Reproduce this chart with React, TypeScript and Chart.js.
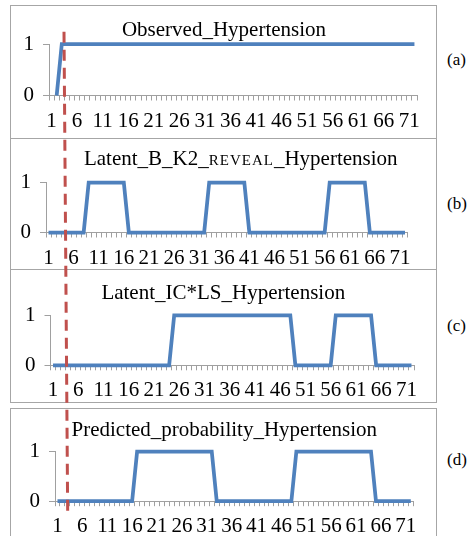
import React, { useEffect, useRef } from "react";
import { Chart, registerables } from "chart.js";

Chart.register(...registerables);

const FONT = "'Liberation Serif', 'Times New Roman', serif";
const BLUE = "#4f81bd";
const GRAY = "#a0a0a0";
const FRAME = "#a6a6a6";
const RED = "#c0504d";

// Time points 1..72 (category axis)
const categories = [
  "1", "2", "3", "4", "5", "6", "7", "8", "9", "10", "11", "12",
  "13", "14", "15", "16", "17", "18", "19", "20", "21", "22", "23", "24",
  "25", "26", "27", "28", "29", "30", "31", "32", "33", "34", "35", "36",
  "37", "38", "39", "40", "41", "42", "43", "44", "45", "46", "47", "48",
  "49", "50", "51", "52", "53", "54", "55", "56", "57", "58", "59", "60",
  "61", "62", "63", "64", "65", "66", "67", "68", "69", "70", "71", "72",
];

// Show every 5th category label (1, 6, 11, ... 71)
const xTickLabels = [
  "1", "6", "11", "16", "21", "26", "31", "36", "41", "46", "51", "56", "61", "66", "71",
];
const yTickValues = [0, 1];

const observed = [
  null, 0, 1, 1, 1, 1, 1, 1, 1, 1, 1, 1,
  1, 1, 1, 1, 1, 1, 1, 1, 1, 1, 1, 1,
  1, 1, 1, 1, 1, 1, 1, 1, 1, 1, 1, 1,
  1, 1, 1, 1, 1, 1, 1, 1, 1, 1, 1, 1,
  1, 1, 1, 1, 1, 1, 1, 1, 1, 1, 1, 1,
  1, 1, 1, 1, 1, 1, 1, 1, 1, 1, 1, 1,
];

const latentBK2 = [
  0, 0, 0, 0, 0, 0, 0, 0, 1, 1, 1, 1,
  1, 1, 1, 1, 0, 0, 0, 0, 0, 0, 0, 0,
  0, 0, 0, 0, 0, 0, 0, 0, 1, 1, 1, 1,
  1, 1, 1, 1, 0, 0, 0, 0, 0, 0, 0, 0,
  0, 0, 0, 0, 0, 0, 0, 0, 1, 1, 1, 1,
  1, 1, 1, 1, 0, 0, 0, 0, 0, 0, 0, 0,
];

const latentICLS = [
  0, 0, 0, 0, 0, 0, 0, 0, 0, 0, 0, 0,
  0, 0, 0, 0, 0, 0, 0, 0, 0, 0, 0, 0,
  1, 1, 1, 1, 1, 1, 1, 1, 1, 1, 1, 1,
  1, 1, 1, 1, 1, 1, 1, 1, 1, 1, 1, 1,
  0, 0, 0, 0, 0, 0, 0, 0, 1, 1, 1, 1,
  1, 1, 1, 1, 0, 0, 0, 0, 0, 0, 0, 0,
];

const predicted = [
  0, 0, 0, 0, 0, 0, 0, 0, 0, 0, 0, 0,
  0, 0, 0, 0, 1, 1, 1, 1, 1, 1, 1, 1,
  1, 1, 1, 1, 1, 1, 1, 1, 0, 0, 0, 0,
  0, 0, 0, 0, 0, 0, 0, 0, 0, 0, 0, 0,
  1, 1, 1, 1, 1, 1, 1, 1, 1, 1, 1, 1,
  1, 1, 1, 1, 0, 0, 0, 0, 0, 0, 0, 0,
];

type Geo = {
  top: number;
  bottom: number;
  areaLeft: number;
  areaRight: number;
  areaTop: number;
  areaBottom: number;
};

const CANVAS_LEFT = 10;
const CANVAS_WIDTH = 427;

function Panel({ values, geo }: { values: (number | null)[]; geo: Geo }) {
  const ref = useRef<HTMLCanvasElement | null>(null);
  const height = Math.round(geo.bottom - geo.top);
  useEffect(() => {
    if (!ref.current) return;
    const yWidth = geo.areaLeft - CANVAS_LEFT;
    const padRight = CANVAS_LEFT + CANVAS_WIDTH - geo.areaRight;
    const padTop = geo.areaTop - geo.top;
    const xHeight = height - (geo.areaBottom - geo.top);
    const tickFont = { family: FONT, size: 21 };
    const chart = new Chart(ref.current, {
      type: "line",
      data: {
        labels: categories,
        datasets: [
          {
            data: values,
            borderColor: BLUE,
            backgroundColor: BLUE,
            borderWidth: 3.75,
            pointRadius: 0,
            pointHoverRadius: 0,
            tension: 0,
            fill: false,
            spanGaps: false,
            clip: false,
            borderJoinStyle: "miter",
            borderCapStyle: "butt",
          } as any,
        ],
      },
      options: {
        responsive: false,
        animation: false,
        events: [],
        layout: { padding: { left: 0, right: padRight, top: padTop, bottom: 0 } },
        plugins: {
          legend: { display: false },
          title: { display: false },
          tooltip: { enabled: false },
        },
        scales: {
          x: {
            type: "category",
            offset: true,
            grid: {
              offset: true,
              drawOnChartArea: false,
              drawTicks: true,
              tickLength: 5,
              color: GRAY,
              lineWidth: 1,
            },
            border: { display: true, color: GRAY, width: 1 },
            ticks: {
              autoSkip: false,
              maxRotation: 0,
              minRotation: 0,
              padding: 8,
              color: "#000",
              font: tickFont,
              callback: (_v: any, i: number) => {
                const lbl = categories[i];
                return xTickLabels.includes(lbl) ? lbl : "";
              },
            },
            afterFit: (s: any) => {
              s.height = xHeight;
            },
          },
          y: {
            type: "linear",
            min: yTickValues[0],
            max: yTickValues[yTickValues.length - 1],
            grid: {
              drawOnChartArea: false,
              drawTicks: true,
              tickLength: 6,
              color: GRAY,
              lineWidth: 1,
            },
            border: { display: true, color: GRAY, width: 1 },
            ticks: {
              stepSize: 1,
              padding: 9,
              color: "#000",
              font: tickFont,
              callback: (v: any) => String(v),
            },
            afterFit: (s: any) => {
              s.width = yWidth;
            },
          },
        },
      } as any,
    });
    return () => chart.destroy();
  }, []);
  return (
    <canvas
      ref={ref}
      width={CANVAS_WIDTH}
      height={height}
      style={{ position: "absolute", left: CANVAS_LEFT, top: geo.top, width: CANVAS_WIDTH, height }}
    />
  );
}

const geoA: Geo = { top: 5, bottom: 138, areaLeft: 49, areaRight: 417, areaTop: 44, areaBottom: 95.5 };
const geoB: Geo = { top: 138, bottom: 269, areaLeft: 46, areaRight: 407.5, areaTop: 182.5, areaBottom: 232.5 };
const geoC: Geo = { top: 269, bottom: 402, areaLeft: 50.5, areaRight: 414, areaTop: 315.3, areaBottom: 365.3 };
const geoD: Geo = { top: 408, bottom: 536, areaLeft: 55, areaRight: 413.3, areaTop: 451.5, areaBottom: 501.2 };

function Frame({ top, bottom }: { top: number; bottom: number }) {
  return (
    <div
      style={{
        position: "absolute",
        left: CANVAS_LEFT,
        top,
        width: CANVAS_WIDTH,
        height: bottom - top + 1,
        border: `1px solid ${FRAME}`,
        boxSizing: "border-box",
      }}
    />
  );
}

function Title({ cx, baseline, children }: { cx: number; baseline: number; children: any }) {
  return (
    <div
      style={{
        position: "absolute",
        left: cx - 200,
        width: 400,
        top: baseline - 17.6,
        textAlign: "center",
        fontFamily: FONT,
        fontSize: 21,
        lineHeight: "21px",
        color: "#000",
        whiteSpace: "nowrap",
      }}
    >
      {children}
    </div>
  );
}

function PanelLabel({ baseline, text }: { baseline: number; text: string }) {
  return (
    <div
      style={{
        position: "absolute",
        left: 447,
        top: baseline - 14.3,
        fontFamily: FONT,
        fontSize: 17,
        lineHeight: "17px",
        color: "#000",
        whiteSpace: "nowrap",
      }}
    >
      {text}
    </div>
  );
}

export default function App() {
  return (
    <div
      style={{
        position: "fixed",
        left: 0,
        top: 0,
        width: 469,
        height: 536,
        overflow: "hidden",
        background: "#fff",
      }}
    >
      <Frame top={geoA.top} bottom={geoA.bottom} />
      <Frame top={geoB.top} bottom={geoB.bottom} />
      <Frame top={geoC.top} bottom={geoC.bottom} />
      <Frame top={geoD.top} bottom={geoD.bottom + 10} />
      <Panel values={observed} geo={geoA} />
      <Panel values={latentBK2} geo={geoB} />
      <Panel values={latentICLS} geo={geoC} />
      <Panel values={predicted} geo={geoD} />
      <Title cx={224} baseline={36.7}>Observed_Hypertension</Title>
      <Title cx={240.8} baseline={165.7}>
        Latent_B_K2_<span style={{ fontSize: 15, letterSpacing: 1 }}>REVEAL</span>_Hypertension
      </Title>
      <Title cx={223.3} baseline={300}>Latent_IC*LS_Hypertension</Title>
      <Title cx={224.3} baseline={436.3}>Predicted_probability_Hypertension</Title>
      <PanelLabel baseline={65} text="(a)" />
      <PanelLabel baseline={209} text="(b)" />
      <PanelLabel baseline={331.5} text="(c)" />
      <PanelLabel baseline={465.3} text="(d)" />
      <svg
        width={469}
        height={536}
        style={{ position: "absolute", left: 0, top: 0, pointerEvents: "none" }}
      >
        <line x1={64} y1={31.7} x2={67.7} y2={515} stroke={RED} strokeWidth={3} strokeDasharray="11 7" />
      </svg>
    </div>
  );
}
